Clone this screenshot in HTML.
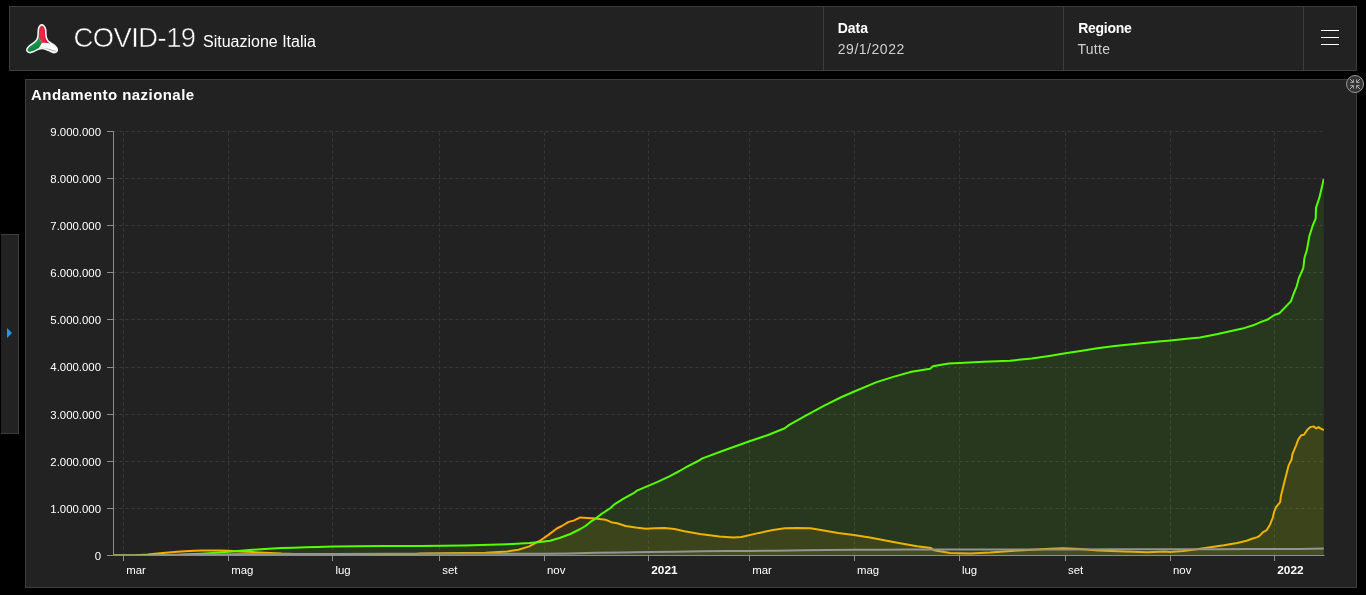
<!DOCTYPE html>
<html lang="it">
<head>
<meta charset="utf-8">
<title>COVID-19 Situazione Italia</title>
<style>
html,body{margin:0;padding:0;background:#000;}
body{width:1366px;height:595px;overflow:hidden;position:relative;font-family:"Liberation Sans",sans-serif;color:#fff;}
.hdr{position:absolute;left:9px;top:6px;width:1346px;height:63px;background:#222;border:1px solid #3d3d3d;}
.title{position:absolute;left:63.6px;top:10.5px;font-size:27.4px;letter-spacing:-0.55px;line-height:40px;white-space:nowrap;color:#fff;-webkit-text-stroke:0.5px #222;}
.sub{position:absolute;left:193px;top:23px;font-size:16px;line-height:24px;white-space:nowrap;color:#fff;}
.sel{position:absolute;top:0;height:63px;width:239px;border-left:1px solid #3d3d3d;}
.sel b{position:absolute;left:13.7px;top:12px;font-size:14px;line-height:18px;}
.sel span{position:absolute;left:13.8px;top:33px;font-size:14px;line-height:18px;color:#cfcfcf;letter-spacing:0.52px;}
.menu{position:absolute;left:1293px;top:0;width:53px;height:63px;border-left:1px solid #3d3d3d;}
.menu i{position:absolute;left:17px;width:18px;height:1.4px;background:#fff;}
.side{position:absolute;left:1px;top:234px;width:17px;height:198px;background:#222;border:1px solid #3d3d3d;border-left:none;}
.side i{position:absolute;left:6px;top:93px;width:0;height:0;border-left:5px solid #2196f3;border-top:5px solid transparent;border-bottom:5px solid transparent;}
.panel{position:absolute;left:25px;top:79px;width:1330px;height:507px;background:#222;border:1px solid #3d3d3d;}
.ptitle{position:absolute;left:5px;top:5px;font-size:15px;font-weight:bold;line-height:20px;letter-spacing:0.45px;white-space:nowrap;}
.chart{position:absolute;left:0;top:0;}
.logo{position:absolute;left:0;top:0;}
.max{position:absolute;left:1346px;top:75px;width:16px;height:16px;border-radius:50%;background:#333;border:1px solid #999;}
</style>
</head>
<body>
<div class="hdr">
  <div class="title">COVID-19</div>
  <div class="sub">Situazione Italia</div>
  <div class="sel" style="left:813px"><b>Data</b><span>29/1/2022</span></div>
  <div class="sel" style="left:1053px"><b style="letter-spacing:-0.3px;left:14.3px">Regione</b><span style="letter-spacing:0.3px;left:13.4px">Tutte</span></div>
  <div class="menu"><i style="top:22.8px"></i><i style="top:29.8px"></i><i style="top:36.8px"></i></div>
</div>
<div class="side"><i></i></div>
<div class="panel"><div class="ptitle">Andamento nazionale</div></div>
<svg class="chart" width="1366" height="595" viewBox="0 0 1366 595">
<g stroke="#393939" stroke-width="1" stroke-dasharray="3 3" fill="none"><line x1="113.5" y1="508.5" x2="1323.8" y2="508.5"/><line x1="113.5" y1="461.5" x2="1323.8" y2="461.5"/><line x1="113.5" y1="414.5" x2="1323.8" y2="414.5"/><line x1="113.5" y1="367.5" x2="1323.8" y2="367.5"/><line x1="113.5" y1="319.5" x2="1323.8" y2="319.5"/><line x1="113.5" y1="272.5" x2="1323.8" y2="272.5"/><line x1="113.5" y1="225.5" x2="1323.8" y2="225.5"/><line x1="113.5" y1="178.5" x2="1323.8" y2="178.5"/><line x1="113.5" y1="131.5" x2="1323.8" y2="131.5"/><line x1="123.5" y1="555.5" x2="123.5" y2="131.5"/><line x1="228.5" y1="555.5" x2="228.5" y2="131.5"/><line x1="332.5" y1="555.5" x2="332.5" y2="131.5"/><line x1="439.5" y1="555.5" x2="439.5" y2="131.5"/><line x1="544.5" y1="555.5" x2="544.5" y2="131.5"/><line x1="648.5" y1="555.5" x2="648.5" y2="131.5"/><line x1="749.5" y1="555.5" x2="749.5" y2="131.5"/><line x1="854.5" y1="555.5" x2="854.5" y2="131.5"/><line x1="959.5" y1="555.5" x2="959.5" y2="131.5"/><line x1="1065.5" y1="555.5" x2="1065.5" y2="131.5"/><line x1="1170.5" y1="555.5" x2="1170.5" y2="131.5"/><line x1="1274.5" y1="555.5" x2="1274.5" y2="131.5"/></g>
<defs><clipPath id="pc"><rect x="114" y="120" width="1210" height="435"/></clipPath></defs>
<g clip-path="url(#pc)">
<path d="M113.5 555.5 L123.8 555.4 L135.8 555.2 L147.8 554.5 L159.9 553.3 L177.0 551.7 L189.0 551.0 L201.1 550.5 L207.9 550.4 L219.9 550.5 L228.5 550.7 L240.5 551.4 L252.6 552.1 L264.6 552.7 L281.7 553.6 L293.8 553.9 L305.8 554.3 L317.8 554.5 L333.2 554.8 L357.3 554.9 L386.5 554.9 L410.5 554.8 L420.0 553.6 L485.5 552.7 L507.4 551.4 L518.3 549.7 L529.2 546.4 L538.0 541.6 L540.0 540.8 L548.4 534.9 L556.8 528.5 L561.8 526.0 L568.6 521.9 L573.6 520.6 L580.3 517.4 L587.1 517.9 L595.5 518.4 L605.5 519.7 L612.3 522.6 L617.3 523.3 L625.7 526.0 L635.8 527.6 L645.9 528.7 L654.3 528.2 L664.4 528.0 L674.5 529.0 L684.5 531.2 L700.0 533.9 L719.5 536.6 L733.4 537.6 L741.3 537.0 L759.1 532.9 L772.9 530.1 L784.8 528.3 L796.6 528.0 L810.5 528.3 L822.3 530.3 L838.1 532.9 L853.9 535.1 L869.8 537.4 L885.6 540.6 L901.4 543.4 L917.2 546.3 L931.0 548.1 L934.0 550.3 L950.0 553.0 L960.0 553.2 L970.0 553.4 L990.0 552.5 L1019.0 550.4 L1045.0 548.9 L1062.5 548.2 L1080.0 548.9 L1098.0 550.4 L1125.0 551.6 L1147.5 552.2 L1165.0 551.6 L1170.0 551.9 L1183.4 551.0 L1196.9 549.2 L1210.3 547.2 L1223.8 545.2 L1237.2 542.9 L1246.6 540.8 L1252.0 538.7 L1257.4 537.1 L1260.1 535.4 L1262.7 532.4 L1266.8 530.1 L1270.1 524.4 L1272.8 517.6 L1274.2 511.6 L1276.2 506.9 L1280.2 502.2 L1280.9 496.1 L1284.9 480.0 L1288.6 465.4 L1291.6 459.5 L1292.3 454.5 L1296.1 445.3 L1298.3 439.4 L1301.2 435.2 L1304.0 434.7 L1307.1 430.1 L1310.4 427.1 L1313.4 426.4 L1316.3 428.4 L1318.5 427.1 L1320.5 428.4 L1323.8 430.1 L1323.8 555.5 L113.5 555.5 Z" fill="#ffaa00" fill-opacity="0.1"/>
<path d="M113.5 555.5 L123.8 555.4 L135.8 555.2 L147.8 554.5 L159.9 553.3 L177.0 551.7 L189.0 551.0 L201.1 550.5 L207.9 550.4 L219.9 550.5 L228.5 550.7 L240.5 551.4 L252.6 552.1 L264.6 552.7 L281.7 553.6 L293.8 553.9 L305.8 554.3 L317.8 554.5 L333.2 554.8 L357.3 554.9 L386.5 554.9 L410.5 554.8 L420.0 553.6 L485.5 552.7 L507.4 551.4 L518.3 549.7 L529.2 546.4 L538.0 541.6 L540.0 540.8 L548.4 534.9 L556.8 528.5 L561.8 526.0 L568.6 521.9 L573.6 520.6 L580.3 517.4 L587.1 517.9 L595.5 518.4 L605.5 519.7 L612.3 522.6 L617.3 523.3 L625.7 526.0 L635.8 527.6 L645.9 528.7 L654.3 528.2 L664.4 528.0 L674.5 529.0 L684.5 531.2 L700.0 533.9 L719.5 536.6 L733.4 537.6 L741.3 537.0 L759.1 532.9 L772.9 530.1 L784.8 528.3 L796.6 528.0 L810.5 528.3 L822.3 530.3 L838.1 532.9 L853.9 535.1 L869.8 537.4 L885.6 540.6 L901.4 543.4 L917.2 546.3 L931.0 548.1 L934.0 550.3 L950.0 553.0 L960.0 553.2 L970.0 553.4 L990.0 552.5 L1019.0 550.4 L1045.0 548.9 L1062.5 548.2 L1080.0 548.9 L1098.0 550.4 L1125.0 551.6 L1147.5 552.2 L1165.0 551.6 L1170.0 551.9 L1183.4 551.0 L1196.9 549.2 L1210.3 547.2 L1223.8 545.2 L1237.2 542.9 L1246.6 540.8 L1252.0 538.7 L1257.4 537.1 L1260.1 535.4 L1262.7 532.4 L1266.8 530.1 L1270.1 524.4 L1272.8 517.6 L1274.2 511.6 L1276.2 506.9 L1280.2 502.2 L1280.9 496.1 L1284.9 480.0 L1288.6 465.4 L1291.6 459.5 L1292.3 454.5 L1296.1 445.3 L1298.3 439.4 L1301.2 435.2 L1304.0 434.7 L1307.1 430.1 L1310.4 427.1 L1313.4 426.4 L1316.3 428.4 L1318.5 427.1 L1320.5 428.4 L1323.8 430.1" fill="none" stroke="#ffaa00" stroke-width="2" stroke-linejoin="round"/>
<path d="M113.5 555.5 L135.8 555.5 L147.8 555.4 L159.9 555.2 L177.0 554.7 L189.0 554.3 L201.1 553.7 L213.1 552.9 L228.5 551.8 L240.5 550.8 L252.6 549.8 L264.6 549.1 L281.7 548.0 L293.8 547.7 L305.8 547.2 L317.8 546.9 L333.2 546.5 L357.3 546.3 L386.5 546.1 L410.5 545.9 L420.0 545.9 L463.7 545.5 L507.4 544.2 L529.2 543.1 L540.0 541.9 L550.1 540.8 L560.2 537.7 L570.3 534.0 L580.3 529.0 L585.4 526.0 L590.4 521.9 L595.5 518.6 L600.5 514.7 L610.6 508.0 L614.0 504.6 L624.0 498.4 L634.1 492.9 L637.5 490.3 L647.6 486.1 L657.6 481.9 L669.4 476.4 L679.5 471.0 L686.2 467.1 L700.0 460.0 L701.8 458.6 L723.7 450.5 L749.5 441.3 L767.4 435.2 L784.8 428.2 L789.2 424.9 L806.7 415.1 L824.2 405.7 L841.6 397.0 L854.3 391.5 L876.6 382.1 L894.1 376.6 L911.5 371.8 L930.1 368.8 L932.9 366.2 L940.0 365.1 L948.7 363.6 L959.4 362.9 L983.7 361.8 L1009.9 360.7 L1031.7 358.5 L1049.2 355.9 L1065.4 353.3 L1082.0 350.7 L1097.3 348.3 L1114.8 346.1 L1136.6 343.7 L1158.4 341.5 L1170.5 340.4 L1186.8 338.7 L1200.0 337.5 L1217.7 334.1 L1242.4 328.6 L1254.7 324.7 L1261.8 321.6 L1267.1 319.8 L1274.5 315.0 L1279.4 313.3 L1286.5 305.9 L1290.9 301.3 L1293.6 293.9 L1296.7 286.3 L1298.9 278.0 L1303.3 268.2 L1304.5 257.7 L1306.9 250.0 L1309.3 236.4 L1312.9 225.0 L1315.7 218.6 L1316.0 207.9 L1319.3 197.9 L1321.4 189.3 L1323.8 178.6 L1323.8 555.5 L113.5 555.5 Z" fill="#55ff00" fill-opacity="0.1"/>
<path d="M113.5 555.5 L135.8 555.5 L147.8 555.4 L159.9 555.2 L177.0 554.7 L189.0 554.3 L201.1 553.7 L213.1 552.9 L228.5 551.8 L240.5 550.8 L252.6 549.8 L264.6 549.1 L281.7 548.0 L293.8 547.7 L305.8 547.2 L317.8 546.9 L333.2 546.5 L357.3 546.3 L386.5 546.1 L410.5 545.9 L420.0 545.9 L463.7 545.5 L507.4 544.2 L529.2 543.1 L540.0 541.9 L550.1 540.8 L560.2 537.7 L570.3 534.0 L580.3 529.0 L585.4 526.0 L590.4 521.9 L595.5 518.6 L600.5 514.7 L610.6 508.0 L614.0 504.6 L624.0 498.4 L634.1 492.9 L637.5 490.3 L647.6 486.1 L657.6 481.9 L669.4 476.4 L679.5 471.0 L686.2 467.1 L700.0 460.0 L701.8 458.6 L723.7 450.5 L749.5 441.3 L767.4 435.2 L784.8 428.2 L789.2 424.9 L806.7 415.1 L824.2 405.7 L841.6 397.0 L854.3 391.5 L876.6 382.1 L894.1 376.6 L911.5 371.8 L930.1 368.8 L932.9 366.2 L940.0 365.1 L948.7 363.6 L959.4 362.9 L983.7 361.8 L1009.9 360.7 L1031.7 358.5 L1049.2 355.9 L1065.4 353.3 L1082.0 350.7 L1097.3 348.3 L1114.8 346.1 L1136.6 343.7 L1158.4 341.5 L1170.5 340.4 L1186.8 338.7 L1200.0 337.5 L1217.7 334.1 L1242.4 328.6 L1254.7 324.7 L1261.8 321.6 L1267.1 319.8 L1274.5 315.0 L1279.4 313.3 L1286.5 305.9 L1290.9 301.3 L1293.6 293.9 L1296.7 286.3 L1298.9 278.0 L1303.3 268.2 L1304.5 257.7 L1306.9 250.0 L1309.3 236.4 L1312.9 225.0 L1315.7 218.6 L1316.0 207.9 L1319.3 197.9 L1321.4 189.3 L1323.8 178.6" fill="none" stroke="#55ff00" stroke-width="2" stroke-linejoin="round"/>
<path d="M113.5 555.5 L135.8 555.5 L147.8 555.4 L159.9 555.2 L177.0 554.9 L189.0 554.7 L201.1 554.5 L213.1 554.3 L228.5 554.2 L252.6 554.0 L281.7 553.9 L333.2 553.9 L386.5 553.8 L439.7 553.8 L491.2 553.8 L515.2 553.8 L544.4 553.7 L568.4 553.4 L595.9 552.8 L619.9 552.4 L649.1 552.0 L673.2 551.7 L702.3 551.3 L726.4 551.1 L750.4 550.9 L774.4 550.7 L803.6 550.3 L827.7 550.0 L855.1 549.8 L879.2 549.7 L908.3 549.6 L959.9 549.5 L1013.1 549.5 L1066.3 549.4 L1117.8 549.3 L1171.0 549.3 L1222.5 549.2 L1246.5 549.1 L1275.7 549.0 L1287.7 549.0 L1299.8 548.9 L1311.8 548.7 L1323.8 548.6 L1323.8 555.5 L113.5 555.5 Z" fill="#949494" fill-opacity="0.1"/>
<path d="M113.5 555.5 L135.8 555.5 L147.8 555.4 L159.9 555.2 L177.0 554.9 L189.0 554.7 L201.1 554.5 L213.1 554.3 L228.5 554.2 L252.6 554.0 L281.7 553.9 L333.2 553.9 L386.5 553.8 L439.7 553.8 L491.2 553.8 L515.2 553.8 L544.4 553.7 L568.4 553.4 L595.9 552.8 L619.9 552.4 L649.1 552.0 L673.2 551.7 L702.3 551.3 L726.4 551.1 L750.4 550.9 L774.4 550.7 L803.6 550.3 L827.7 550.0 L855.1 549.8 L879.2 549.7 L908.3 549.6 L959.9 549.5 L1013.1 549.5 L1066.3 549.4 L1117.8 549.3 L1171.0 549.3 L1222.5 549.2 L1246.5 549.1 L1275.7 549.0 L1287.7 549.0 L1299.8 548.9 L1311.8 548.7 L1323.8 548.6" fill="none" stroke="#949494" stroke-width="2" stroke-linejoin="round"/>
</g>
<g stroke="#8c8c8c" stroke-width="1" fill="none"><line x1="113.5" y1="131" x2="113.5" y2="556"/><line x1="107" y1="555.5" x2="1324.5" y2="555.5"/><line x1="107" y1="508.5" x2="114" y2="508.5"/><line x1="107" y1="461.5" x2="114" y2="461.5"/><line x1="107" y1="414.5" x2="114" y2="414.5"/><line x1="107" y1="367.5" x2="114" y2="367.5"/><line x1="107" y1="319.5" x2="114" y2="319.5"/><line x1="107" y1="272.5" x2="114" y2="272.5"/><line x1="107" y1="225.5" x2="114" y2="225.5"/><line x1="107" y1="178.5" x2="114" y2="178.5"/><line x1="107" y1="131.5" x2="114" y2="131.5"/><line x1="123.5" y1="555" x2="123.5" y2="561"/><line x1="228.5" y1="555" x2="228.5" y2="561"/><line x1="332.5" y1="555" x2="332.5" y2="561"/><line x1="439.5" y1="555" x2="439.5" y2="561"/><line x1="544.5" y1="555" x2="544.5" y2="561"/><line x1="648.5" y1="555" x2="648.5" y2="561"/><line x1="749.5" y1="555" x2="749.5" y2="561"/><line x1="854.5" y1="555" x2="854.5" y2="561"/><line x1="959.5" y1="555" x2="959.5" y2="561"/><line x1="1065.5" y1="555" x2="1065.5" y2="561"/><line x1="1170.5" y1="555" x2="1170.5" y2="561"/><line x1="1274.5" y1="555" x2="1274.5" y2="561"/></g>
<g fill="#ffffff" font-family="'Liberation Sans', sans-serif" font-size="11.4px"><text x="101" y="559.8" text-anchor="end">0</text><text x="101" y="512.7" text-anchor="end">1.000.000</text><text x="101" y="465.6" text-anchor="end">2.000.000</text><text x="101" y="418.5" text-anchor="end">3.000.000</text><text x="101" y="371.4" text-anchor="end">4.000.000</text><text x="101" y="324.2" text-anchor="end">5.000.000</text><text x="101" y="277.1" text-anchor="end">6.000.000</text><text x="101" y="230.0" text-anchor="end">7.000.000</text><text x="101" y="182.9" text-anchor="end">8.000.000</text><text x="101" y="135.8" text-anchor="end">9.000.000</text><text x="126.2" y="574.2">mar</text><text x="231.2" y="574.2">mag</text><text x="335.5" y="574.2">lug</text><text x="442.2" y="574.2">set</text><text x="547.0" y="574.2">nov</text><text x="651.3" y="574.2" font-weight="bold" font-size="11.8px">2021</text><text x="752.3" y="574.2">mar</text><text x="857.0" y="574.2">mag</text><text x="961.9" y="574.2">lug</text><text x="1068.1" y="574.2">set</text><text x="1173.0" y="574.2">nov</text><text x="1277.3" y="574.2" font-weight="bold" font-size="11.8px">2022</text></g>
</svg>
<svg class="logo" width="80" height="72" viewBox="0 0 80 72">
<defs><clipPath id="lc"><path id="lo" d="M41.86 24.85 C42.50 24.85 43.16 25.12 43.78 25.84 C44.41 26.57 45.28 28.11 45.62 29.21 C45.96 30.32 45.72 31.16 45.82 32.49 C45.93 33.81 45.92 35.79 46.26 37.15 C46.60 38.52 47.05 39.68 47.86 40.70 C48.68 41.71 49.93 42.35 51.15 43.23 C52.37 44.12 54.16 44.99 55.17 45.99 C56.18 46.98 56.98 48.24 57.22 49.20 C57.46 50.15 57.12 51.17 56.60 51.73 C56.07 52.30 55.06 52.64 54.08 52.61 C53.11 52.57 52.06 52.06 50.75 51.52 C49.44 50.98 47.66 49.86 46.23 49.37 C44.80 48.87 43.51 48.55 42.16 48.55 C40.81 48.55 39.56 48.85 38.13 49.34 C36.71 49.83 34.94 50.96 33.63 51.51 C32.33 52.05 31.34 52.60 30.31 52.59 C29.27 52.58 27.96 52.06 27.41 51.45 C26.86 50.84 26.68 49.82 26.98 48.91 C27.29 48.00 28.18 46.93 29.23 45.98 C30.27 45.03 32.04 44.21 33.25 43.23 C34.46 42.26 35.71 41.23 36.48 40.10 C37.25 38.98 37.60 37.76 37.88 36.49 C38.17 35.22 38.06 33.81 38.18 32.49 C38.29 31.16 38.26 29.63 38.56 28.52 C38.85 27.41 39.38 26.45 39.93 25.84 C40.48 25.23 41.22 24.85 41.86 24.85 Z"/></clipPath>
<linearGradient id="wg" x1="0" y1="0" x2="0.35" y2="1"><stop offset="0.74" stop-color="#ffffff"/><stop offset="0.86" stop-color="#bdbdbd"/><stop offset="0.95" stop-color="#f4f4f4"/></linearGradient>
<linearGradient id="rg" x1="0" y1="0" x2="1" y2="0"><stop offset="0.55" stop-color="#ea2748"/><stop offset="1" stop-color="#b01634"/></linearGradient>
<linearGradient id="gg" x1="0" y1="0" x2="0.4" y2="1"><stop offset="0.5" stop-color="#1d9b4d"/><stop offset="1" stop-color="#0e7436"/></linearGradient></defs>
<g clip-path="url(#lc)">
<rect x="20" y="20" width="44" height="36" fill="#ffffff"/>
<path d="M40.5 48.3 C45 47.6 50 49.2 56.5 51.6" fill="none" stroke="#a9a9a9" stroke-width="1.1"/>
<path d="M37.6 35.4 L41.9 43 C44 42.6 47 42.8 50 43.4 L50 20 L34 20 Z" fill="url(#rg)"/>
<path d="M37.6 35.4 L41.9 43 L38 49.4 L37 56 L20 56 L20 35 Z" fill="url(#gg)"/>
</g>
<use href="#lo" fill="none" stroke="#f2f2f2" stroke-width="1.6"/>
</svg>
<div class="max"></div>
<svg class="logo" style="left:1346px;top:75px" width="18" height="18" viewBox="0 0 18 18">
<g stroke="#ababab" stroke-width="1" fill="none">
<path d="M4 4 L7.4 7.4 M4.4 7.4 H7.4 V4.4"/>
<path d="M14 4 L10.6 7.4 M13.6 7.4 H10.6 V4.4"/>
<path d="M4 14 L7.4 10.6 M4.4 10.6 H7.4 V13.6"/>
<path d="M14 14 L10.6 10.6 M13.6 10.6 H10.6 V13.6"/>
</g>
</svg>
</body>
</html>
